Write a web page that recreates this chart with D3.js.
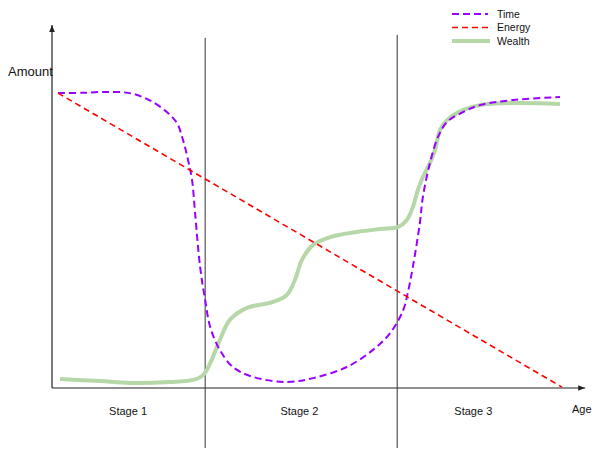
<!DOCTYPE html>
<html>
<head>
<meta charset="utf-8">
<script src="https://cdn.jsdelivr.net/npm/d3@7"></script>
<style>
  html, body { margin: 0; padding: 0; background: #fff; }
  svg { display: block; font-family: "Liberation Sans", Arial, sans-serif; }
</style>
</head>
<body>
<svg id="chart" width="601" height="452"></svg>
<script>
// ---- data (age 0..100, amount 0..100) ----
const timeAge = [0, 5, 10, 14.5, 18.3, 21.6, 23.6, 24.8, 25.8, 26.6, 27.2, 28.2, 29.2, 30.2, 32.1, 34.7, 38.7, 45.4, 50.6, 57.3, 62.5, 65.9, 68.5, 69.4, 70.4, 71.8, 72.4, 73.8, 75.4, 77.2, 80.4, 83.7, 90.3, 99.6];
const timeAmount = [98.3, 98.4, 98.7, 98.2, 95.8, 92, 88.3, 82.7, 76, 69.3, 58.3, 40.3, 29.3, 20.3, 12.7, 7, 3.7, 2, 3.3, 7, 12.7, 18.3, 26, 31.7, 40.3, 55, 63.7, 75, 83.7, 88.7, 92, 94.3, 96, 97];

const energyAge = [0, 100];
const energyAmount = [98.3, 0.3];

const wealthAge = [0.4, 8.3, 14.3, 22.2, 26.8, 28.8, 30.2, 32.1, 34.1, 37.5, 42.7, 45.4, 47, 48.4, 50.6, 54, 59.3, 63.9, 67.5, 69.2, 70.4, 71.4, 72.4, 73.8, 74.8, 75.8, 77.2, 80.4, 83.7, 90.3, 99.6];
const wealthAmount = [3, 2.3, 1.7, 2, 2.7, 4.3, 8.3, 16, 22.7, 26.7, 28.7, 31, 36, 42.7, 47.7, 50.3, 52, 53, 53.7, 56, 60.3, 66, 70.3, 75, 79.3, 86, 89.3, 92.7, 94.3, 95, 94.7];

const stageBoundaries = [29.2, 67.3];
const stageLabels = ["Stage 1", "Stage 2", "Stage 3"];
const stageCenters = [13.9, 47.9, 82.4];

const seriesNames = ["Time", "Energy", "Wealth"];

// ---- layout ----
const svg = d3.select("#chart");
const x = d3.scaleLinear().domain([0, 100]).range([58, 562]);
const y = d3.scaleLinear().domain([0, 100]).range([388, 88]);

const styles = {
  Time:   { stroke: "#9900ff", width: 2, dash: "7,4" },
  Energy: { stroke: "#ff0000", width: 1.6, dash: "6,4" },
  Wealth: { stroke: "#b6d7a8", width: 4, dash: null }
};

// defs: arrow marker
svg.append("defs").append("marker")
  .attr("id", "arrow").attr("viewBox", "0 0 10 10")
  .attr("refX", 10).attr("refY", 5)
  .attr("markerWidth", 7).attr("markerHeight", 7)
  .attr("markerUnits", "userSpaceOnUse")
  .attr("orient", "auto")
  .append("path").attr("d", "M0,1 L10,5 L0,9 Z").attr("fill", "#222");

// axes
const x0 = x.invert(52);
svg.append("line")
  .attr("x1", x(x0)).attr("y1", y(0)).attr("x2", x(x0)).attr("y2", y(121))
  .attr("stroke", "#222").attr("stroke-width", 1.2).attr("marker-end", "url(#arrow)");
svg.append("line")
  .attr("x1", x(x0)).attr("y1", y(0)).attr("x2", x(104.6)).attr("y2", y(0))
  .attr("stroke", "#222").attr("stroke-width", 1.2).attr("marker-end", "url(#arrow)");

svg.append("text").attr("x", 8).attr("y", 76)
  .attr("font-size", 13).attr("fill", "#111").text("Amount");
svg.append("text").attr("x", 572).attr("y", 413)
  .attr("font-size", 11).attr("fill", "#111").text("Age");

// stage boundaries
const stageTop = [116.7, 117.7];
svg.selectAll("line.stage").data(stageBoundaries).join("line")
  .attr("class", "stage")
  .attr("x1", d => x(d)).attr("x2", d => x(d))
  .attr("y1", (d, i) => y(stageTop[i])).attr("y2", y(-20))
  .attr("stroke", "#333").attr("stroke-width", 1);

svg.selectAll("text.stage").data(stageLabels).join("text")
  .attr("class", "stage")
  .attr("x", (d, i) => x(stageCenters[i])).attr("y", 414.5)
  .attr("text-anchor", "middle").attr("font-size", 11).attr("fill", "#111")
  .text(d => d);

// series
const lineGen = d3.line().x(d => x(d[0])).y(d => y(d[1])).curve(d3.curveCatmullRom.alpha(0.5));
const series = {
  Time: d3.zip(timeAge, timeAmount),
  Energy: d3.zip(energyAge, energyAmount),
  Wealth: d3.zip(wealthAge, wealthAmount)
};
["Wealth", "Time", "Energy"].forEach(name => {
  const s = styles[name];
  svg.append("path")
    .datum(series[name])
    .attr("d", lineGen)
    .attr("fill", "none")
    .attr("stroke", s.stroke)
    .attr("stroke-width", s.width)
    .attr("stroke-dasharray", s.dash)
    .attr("stroke-linejoin", "round");
});

// legend
const legendY = [14, 27.5, 41];
const lg = svg.append("g");
seriesNames.forEach((name, i) => {
  const s = styles[name];
  lg.append("line")
    .attr("x1", 452).attr("x2", name === "Wealth" ? 490 : 488)
    .attr("y1", legendY[i]).attr("y2", legendY[i])
    .attr("stroke", s.stroke).attr("stroke-width", s.width)
    .attr("stroke-dasharray", s.dash);
  lg.append("text")
    .attr("x", 497).attr("y", legendY[i] + 3.7)
    .attr("font-size", 10.5).attr("fill", "#111").text(name);
});
</script>
</body>
</html>
